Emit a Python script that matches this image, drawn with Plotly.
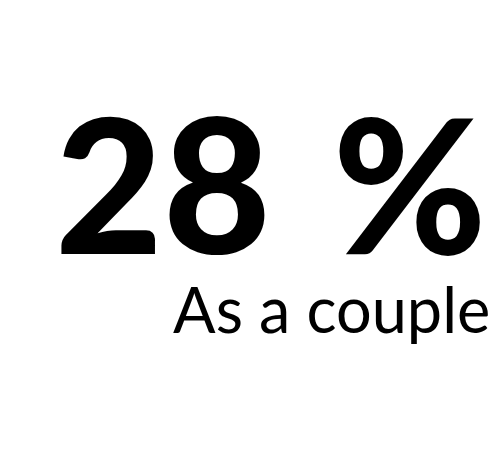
import plotly.graph_objects as go

value = [28]
suffix = ["\u2004%"]
label = ["As a couple"]

fig = go.Figure()
fig.add_annotation(
    text=f"{value[0]}{suffix[0]}",
    xref="paper", yref="paper", x=481/500, y=1 - 174/475,
    xanchor="right", yanchor="middle", showarrow=False,
    font=dict(family="Lato", size=186, color="#000000", weight=900),
)
fig.add_annotation(
    text=label[0],
    xref="paper", yref="paper", x=484/500, y=1 - 300/475,
    xanchor="right", yanchor="middle", showarrow=False,
    font=dict(family="Lato", size=63, color="#000000"),
)
fig.update_layout(
    width=500, height=475,
    margin=dict(l=0, r=0, t=0, b=0),
    paper_bgcolor="white", plot_bgcolor="white",
    xaxis=dict(visible=False), yaxis=dict(visible=False),
)
fig.write_html("out.html")
